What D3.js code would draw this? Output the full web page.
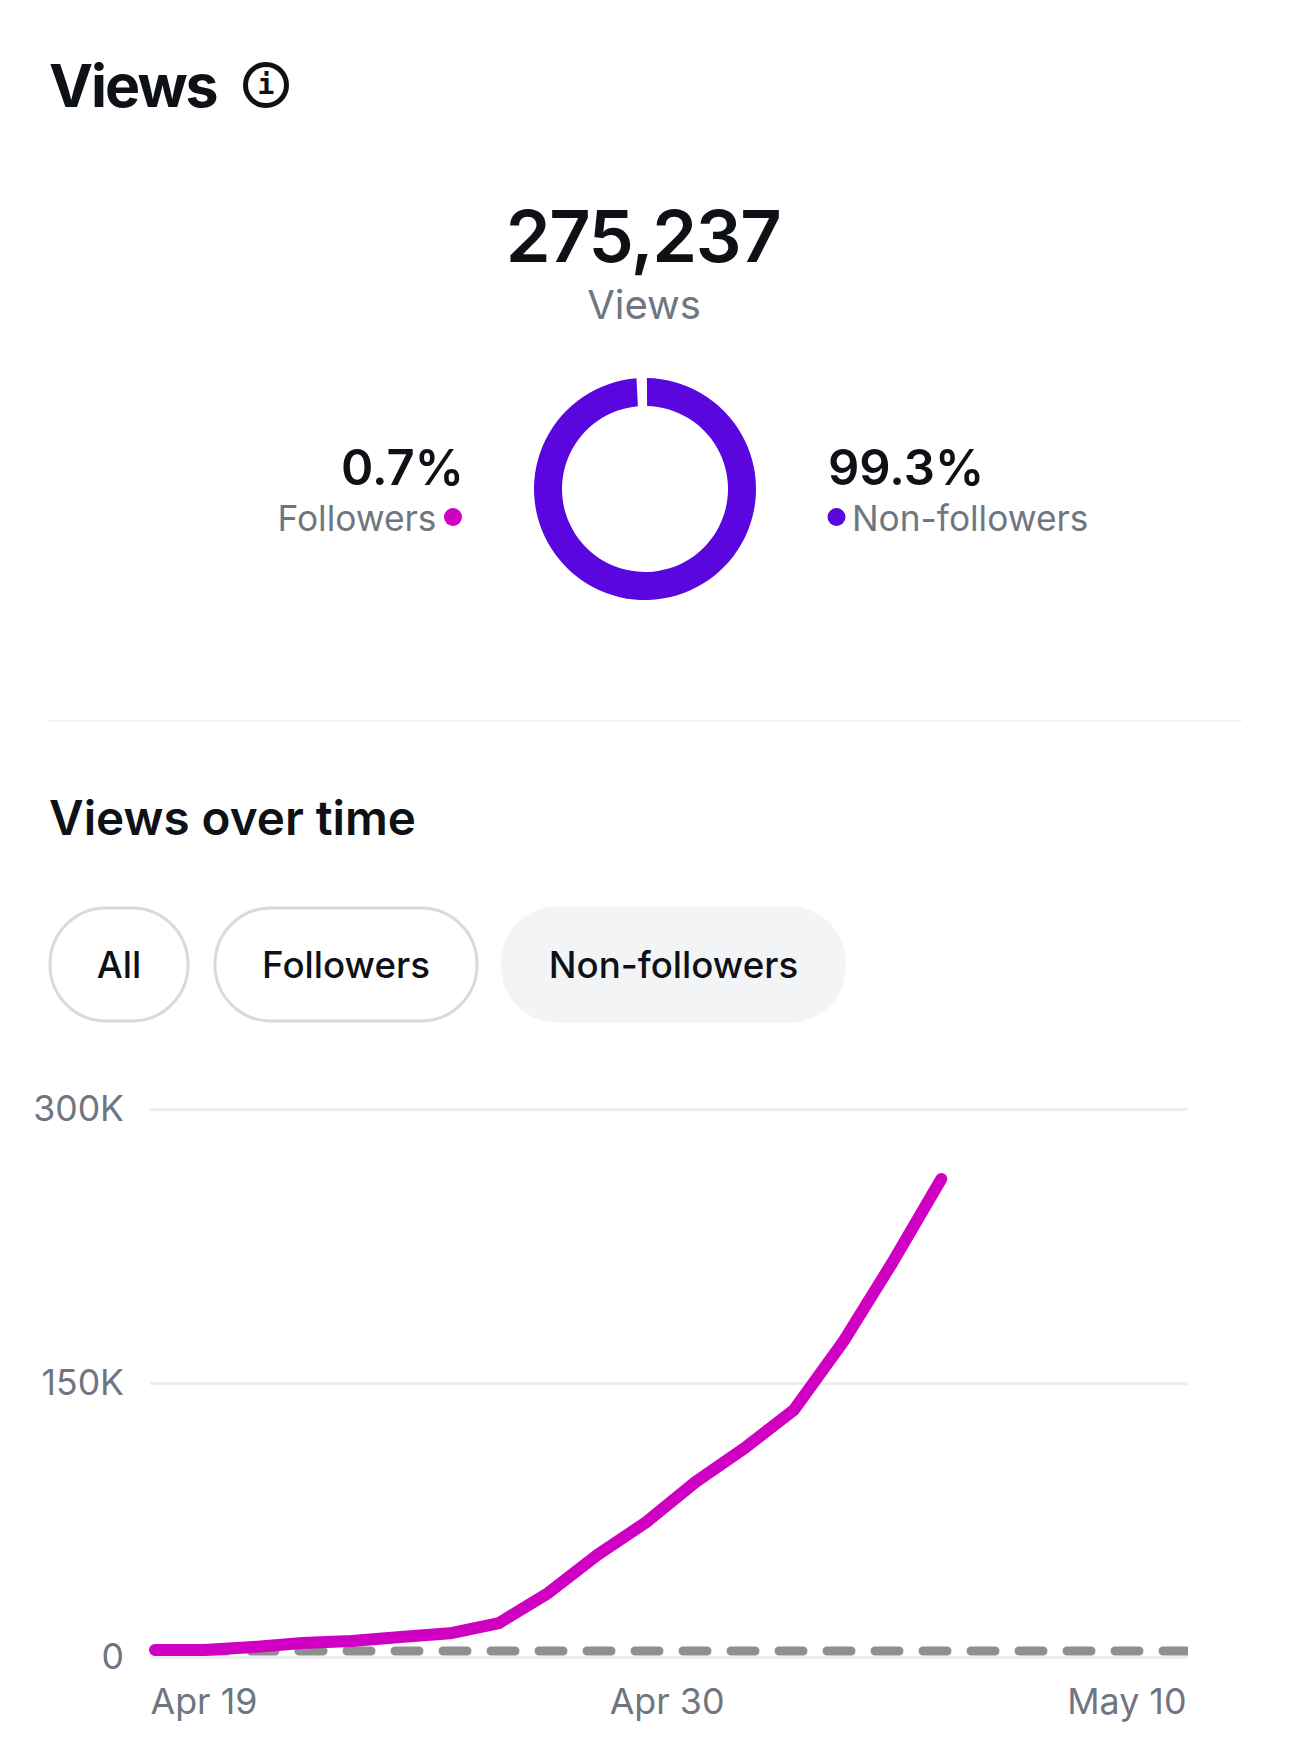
<!DOCTYPE html>
<html>
<head>
<meta charset="utf-8">
<script src="https://cdn.jsdelivr.net/npm/d3@7"></script>
<style>
  body { margin: 0; background: #fff; }
  svg { display: block; }
  text { font-family: Inter, sans-serif; }
</style>
</head>
<body>
<div id="chart"></div>
<script>
// values
const totalViews = "275,237";
const shareLabels = ["Followers", "Non-followers"];
const shareValues = [0.7, 99.3];
const filters = ["All", "Followers", "Non-followers"];
const days = ["Apr 19", "Apr 20", "Apr 21", "Apr 22", "Apr 23", "Apr 24", "Apr 25", "Apr 26", "Apr 27",
  "Apr 28", "Apr 29", "Apr 30", "May 1", "May 2", "May 3", "May 4", "May 5"];
const viewsK = [3.8, 3.8, 5.5, 7.7, 8.8, 11, 13, 18.6, 35, 55.8, 73.9, 95.8, 114.4, 135.2, 172.4, 215.7, 261.7];
const dashedDays = ["Apr 19", "May 10"];
const dashedK = [3.3, 3.3];
const yTicks = [0, 150, 300];
const xTicks = ["Apr 19", "Apr 30", "May 10"];

const width = 1290;
const height = 1751;
const ink = "#0e1116";
const grey = "#6f7681";
const magenta = "#d000c3";
const violet = "#5907de";

const svg = d3.select("#chart")
  .append("svg")
  .attr("width", width)
  .attr("height", height);

function label(x, y, str, size, weight, fill, anchor) {
  return svg.append("text")
    .attr("x", x)
    .attr("y", y)
    .attr("font-size", size)
    .attr("font-weight", weight)
    .attr("fill", fill)
    .attr("text-anchor", anchor || "start")
    .text(str);
}

// header
label(49, 107, "Views", 59, 700, ink).attr("letter-spacing", -2);
svg.append("circle")
  .attr("cx", 266).attr("cy", 85).attr("r", 20.5)
  .attr("fill", "none").attr("stroke", ink).attr("stroke-width", 5);
svg.append("text")
  .attr("x", 266).attr("y", 94)
  .attr("text-anchor", "middle")
  .attr("font-size", 28).attr("font-weight", 700)
  .attr("fill", ink)
  .style("font-family", "'DejaVu Sans Mono'")
  .text("i");

label(643, 262, totalViews, 72, 600, ink, "middle").attr("letter-spacing", -1.4);
label(644, 319, "Views", 40, 400, grey, "middle");

// donut
const pie = d3.pie().sort(null).startAngle(-0.052).endAngle(2 * Math.PI - 0.052);
const arc = d3.arc().innerRadius(83).outerRadius(111).padAngle(0.05).padRadius(111);
svg.append("g")
  .attr("transform", "translate(645,489)")
  .selectAll("path")
  .data(pie(shareValues))
  .join("path")
  .attr("d", arc)
  .attr("fill", (d, i) => i === 0 ? magenta : violet);

label(464, 484.5, shareValues[0] + "%", 49, 600, ink, "end");
label(436.5, 531, shareLabels[0], 35.3, 400, grey, "end");
svg.append("circle").attr("cx", 453).attr("cy", 517).attr("r", 9).attr("fill", magenta);

label(828, 484.5, shareValues[1] + "%", 49, 600, ink);
label(852, 531, shareLabels[1], 35.3, 400, grey);
svg.append("circle").attr("cx", 836.5).attr("cy", 517).attr("r", 9).attr("fill", violet);

svg.append("line")
  .attr("x1", 48).attr("x2", 1242)
  .attr("y1", 721).attr("y2", 721)
  .attr("stroke", "#f5f5f6").attr("stroke-width", 2);

label(49, 835, "Views over time", 47.6, 600, ink);

// filter pills
const pillBoxes = [[50, 138], [215, 262], [501, 345]];
const pills = svg.append("g").selectAll("g")
  .data(filters)
  .join("g");
pills.append("rect")
  .attr("x", (d, i) => pillBoxes[i][0])
  .attr("width", (d, i) => pillBoxes[i][1])
  .attr("y", (d, i) => i === 2 ? 906.5 : 908)
  .attr("height", (d, i) => i === 2 ? 116 : 113)
  .attr("rx", 56)
  .attr("fill", (d, i) => i === 2 ? "#f3f4f6" : "#fff")
  .attr("stroke", (d, i) => i === 2 ? "none" : "#dadada")
  .attr("stroke-width", 3);
pills.append("text")
  .attr("x", (d, i) => pillBoxes[i][0] + pillBoxes[i][1] / 2)
  .attr("y", 977.5)
  .attr("text-anchor", "middle")
  .attr("font-size", 36.7)
  .attr("font-weight", 500)
  .attr("fill", ink)
  .text(d => d);

// line chart
const parseDay = d3.timeParse("%b %d");
const x = d3.scaleTime()
  .domain([parseDay("Apr 19"), parseDay("May 10")])
  .range([155, 1187]);
const y = d3.scaleLinear()
  .domain([0, 300])
  .range([1657, 1109]);

const yAxis = d3.axisLeft(y)
  .tickValues(yTicks)
  .tickSize(-(1188 - 150))
  .tickPadding(26)
  .tickFormat(d => d === 0 ? "0" : d + "K");
const yG = svg.append("g")
  .attr("transform", "translate(150,0)")
  .call(yAxis);
yG.select(".domain").remove();
yG.selectAll("line").attr("stroke", "#eceef2").attr("stroke-width", 3);
yG.selectAll("text")
  .attr("font-size", 35.6)
  .attr("fill", grey)
  .attr("dy", 11)
  .style("font-family", "Inter, sans-serif");

const xAxis = d3.axisBottom(x)
  .tickValues(xTicks.map(parseDay))
  .tickSize(0)
  .tickPadding(0)
  .tickFormat(d3.timeFormat("%b %-d"));
const xG = svg.append("g")
  .attr("transform", "translate(0,1714)")
  .call(xAxis);
xG.select(".domain").remove();
xG.selectAll("text")
  .attr("font-size", 35.8)
  .attr("fill", grey)
  .attr("dy", 0)
  .attr("y", 0)
  .attr("text-anchor", (d, i) => ["start", "middle", "end"][i])
  .attr("dx", (d, i) => [-5, -29, -1][i])
  .style("font-family", "Inter, sans-serif");

// the dashes stop flat at the end of the grid
svg.append("clipPath")
  .attr("id", "plot")
  .append("rect")
  .attr("x", 150).attr("y", 1100)
  .attr("width", 1038).attr("height", 570);

svg.append("path")
  .attr("d", d3.line().x((d, i) => x(parseDay(dashedDays[i]))).y(d => y(d))(dashedK))
  .attr("clip-path", "url(#plot)")
  .attr("fill", "none")
  .attr("stroke", "#8f8f8f")
  .attr("stroke-width", 9)
  .attr("stroke-linecap", "round")
  .attr("stroke-dasharray", "24 24");

svg.append("path")
  .attr("d", d3.line().x((d, i) => x(parseDay(days[i]))).y(d => y(d))(viewsK))
  .attr("fill", "none")
  .attr("stroke", magenta)
  .attr("stroke-width", 12)
  .attr("stroke-linecap", "round")
  .attr("stroke-linejoin", "round");
</script>
</body>
</html>
